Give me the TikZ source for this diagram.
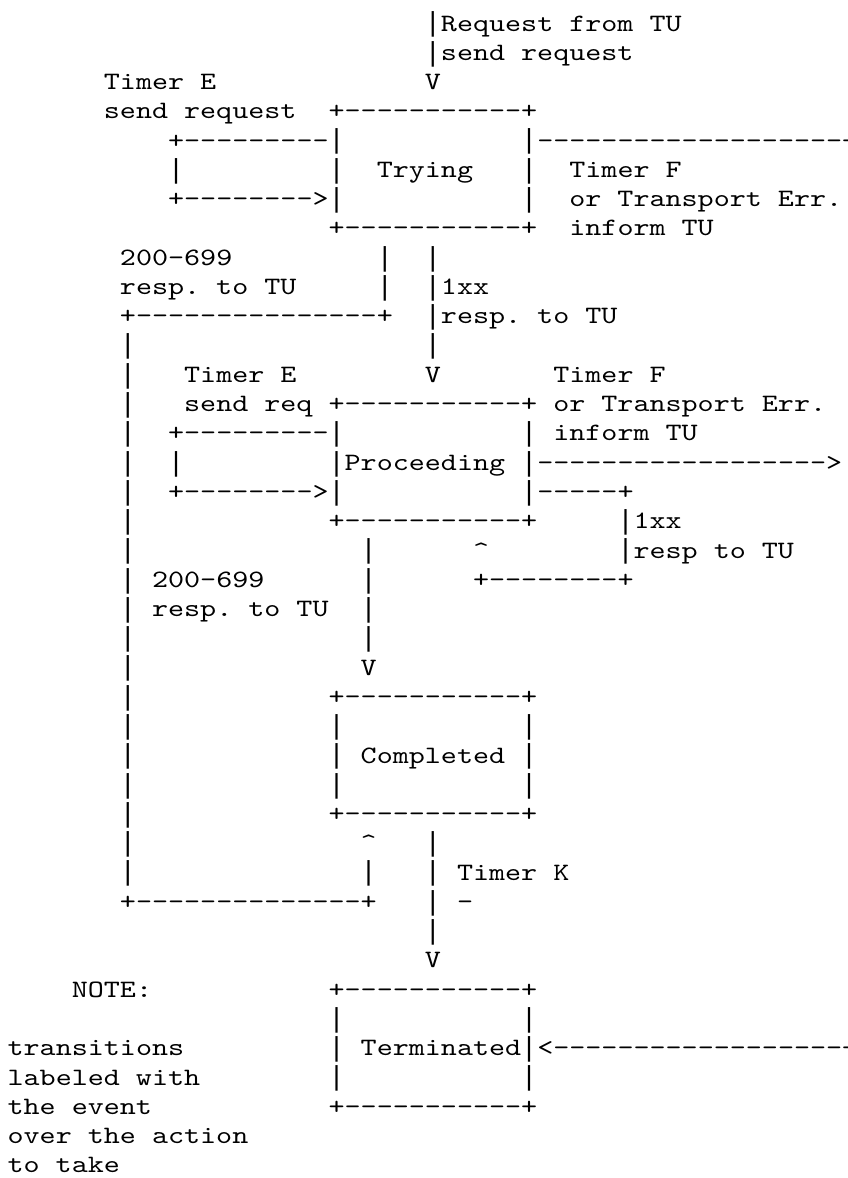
\documentclass[tikz,border=0pt]{standalone}
\usepackage{fontspec}
\newfontfamily\asciifont{lmmono10-regular.otf}[FakeStretch=1.2229]
\newfontfamily\barfont{Liberation Mono}
\newcommand{\asciisetup}{\asciifont\fontsize{25pt}{29pt}\selectfont\fontdimen2\font=16.05pt\relax\fontdimen3\font=0pt\relax\fontdimen4\font=0pt\relax\frenchspacing}
\newcommand{\vb}{\makebox[16.05pt]{\raisebox{-0.8pt}{\barfont\fontsize{27.5pt}{29pt}\selectfont|}}}
\tikzset{asc/.style={anchor=base west, inner sep=0pt, outer sep=0pt, font=\asciisetup}}
\begin{document}
\begin{tikzpicture}
\useasboundingbox (0,0) rectangle (848pt,-1178pt);
\begin{scope}[shift={(7.6pt,-1.72pt)}, x=16.05pt, y=-29.28pt]
% rows 1-4
\node[asc] (r1a) at (26,1) {\vb Request from TU};
\node[asc] (r2a) at (26,2) {\vb send request};
\node[asc] (r3a) at (6,3) {Timer E};
\node[asc] (r3b) at (26,3) {V};
\node[asc] (r4a) at (6,4) {send request};
\node[asc] (r4b) at (20,4) {+-----------+};
% rows 5-8 (Trying)
\node[asc] (r5a) at (10,5) {+---------\vb};
\node[asc] (r5b) at (32,5) {\vb-------------------+};
\node[asc] (r6a) at (10,6) {\vb};
\node[asc] (r6b) at (20,6) {\vb};
\node[asc] (r6c) at (23,6) {Trying};
\node[asc] (r6d) at (32,6) {\vb};
\node[asc] (r6e) at (35,6) {Timer F};
\node[asc] (r7a) at (10,7) {+-------->\vb};
\node[asc] (r7b) at (32,7) {\vb};
\node[asc] (r7c) at (35,7) {or Transport Err.};
\node[asc] (r8a) at (20,8) {+-----------+};
\node[asc] (r8b) at (35,8) {inform TU};
% rows 9-12
\node[asc] (r9a) at (7,9) {200-699};
\node[asc] (r9b) at (23,9) {\vb};
\node[asc] (r9c) at (26,9) {\vb};
\node[asc] (r10a) at (7,10) {resp. to TU};
\node[asc] (r10b) at (23,10) {\vb};
\node[asc] (r10c) at (26,10) {\vb 1xx};
\node[asc] (r11a) at (7,11) {+---------------+};
\node[asc] (r11b) at (26,11) {\vb resp. to TU};
\node[asc] (r12a) at (26,12) {\vb};
% rows 13-18 (Proceeding)
\node[asc] (r13a) at (11,13) {Timer E};
\node[asc] (r13b) at (26,13) {V};
\node[asc] (r13c) at (34,13) {Timer F};
\node[asc] (r14a) at (11,14) {send req};
\node[asc] (r14b) at (20,14) {+-----------+};
\node[asc] (r14c) at (34,14) {or Transport Err.};
\node[asc] (r15a) at (10,15) {+---------\vb};
\node[asc] (r15b) at (32,15) {\vb};
\node[asc] (r15c) at (34,15) {inform TU};
\node[asc] (r16a) at (10,16) {\vb};
\node[asc] (r16b) at (20,16) {\vb Proceeding};
\node[asc] (r16c) at (32,16) {\vb------------------>};
\node[asc] (r17a) at (10,17) {+-------->\vb};
\node[asc] (r17b) at (32,17) {\vb-----+};
\node[asc] (r18a) at (20,18) {+-----------+};
\node[asc] (r18b) at (38,18) {\vb 1xx};
% rows 19-23
\node[asc] (r19a) at (22,19) {\vb};
\node[asc] (r19b) at (29,19) {\textasciicircum};
\node[asc] (r19c) at (38,19) {\vb resp to TU};
\node[asc] (r20a) at (9,20) {200-699};
\node[asc] (r20b) at (22,20) {\vb};
\node[asc] (r20c) at (29,20) {+--------+};
\node[asc] (r21a) at (9,21) {resp. to TU};
\node[asc] (r21b) at (22,21) {\vb};
\node[asc] (r22a) at (22,22) {\vb};
\node[asc] (r23a) at (22,23) {V};
% rows 24-28 (Completed)
\node[asc] (r24a) at (20,24) {+-----------+};
\node[asc] (r25a) at (20,25) {\vb};
\node[asc] (r25b) at (32,25) {\vb};
\node[asc] (r26a) at (20,26) {\vb};
\node[asc] (r26b) at (22,26) {Completed};
\node[asc] (r26c) at (32,26) {\vb};
\node[asc] (r27a) at (20,27) {\vb};
\node[asc] (r27b) at (32,27) {\vb};
\node[asc] (r28a) at (20,28) {+-----------+};
% rows 29-33
\node[asc] (r29a) at (22,29) {\textasciicircum};
\node[asc] (r29b) at (26,29) {\vb};
\node[asc] (r30a) at (22,30) {\vb};
\node[asc] (r30b) at (26,30) {\vb};
\node[asc] (r30c) at (28,30) {Timer K};
\node[asc] (r31a) at (7,31) {+--------------+};
\node[asc] (r31b) at (26,31) {\vb};
\node[asc] (r31c) at (28,31) {-};
\node[asc] (r32a) at (26,32) {\vb};
\node[asc] (r33a) at (26,33) {V};
% rows 34-40 (Terminated, note)
\node[asc] (r34a) at (4,34) {NOTE:};
\node[asc] (r34b) at (20,34) {+-----------+};
\node[asc] (r35a) at (20,35) {\vb};
\node[asc] (r35b) at (32,35) {\vb};
\node[asc] (r36a) at (0,36) {transitions};
\node[asc] (r36b) at (20,36) {\vb};
\node[asc] (r36c) at (22,36) {Terminated\vb<------------------+};
\node[asc] (r37a) at (0,37) {labeled with};
\node[asc] (r37b) at (20,37) {\vb};
\node[asc] (r37c) at (32,37) {\vb};
\node[asc] (r38a) at (0,38) {the event};
\node[asc] (r38b) at (20,38) {+-----------+};
\node[asc] (r39a) at (0,39) {over the action};
\node[asc] (r40a) at (0,40) {to take};
% long verticals
\foreach \r in {12,...,30} \node[asc] (left\r) at (7,\r) {\vb};
\foreach \r in {6,...,35} \node[asc] (right\r) at (52,\r) {\vb};
\end{scope}
\end{tikzpicture}
\end{document}
